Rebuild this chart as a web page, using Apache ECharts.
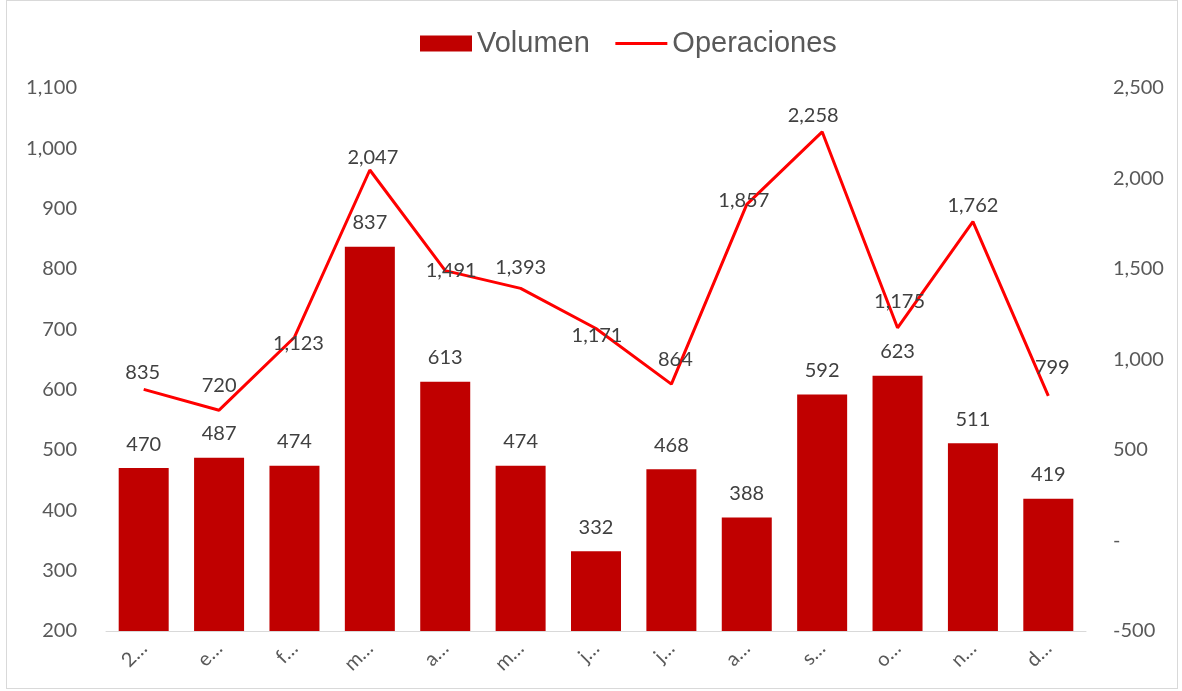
<!DOCTYPE html>
<html>
<head>
<meta charset="utf-8">
<script src="https://cdn.jsdelivr.net/npm/echarts@6/dist/echarts.min.js"></script>
<style>
html,body{margin:0;padding:0;background:#fff;}
#frame{position:absolute;left:6px;top:0;width:1172px;height:689px;border:1px solid #d9d9d9;box-sizing:border-box;}
#chart{position:absolute;left:0;top:0;width:1182px;height:691px;}
</style>
</head>
<body>
<div id="frame"></div>
<div id="chart"></div>
<script>
const categories = ["2…","e…","f…","m…","a…","m…","j…","j…","a…","s…","o…","n…","d…"];
const volumen = [470,487,474,837,613,474,332,468,388,592,623,511,419];
const operaciones = [835,720,1123,2047,1491,1393,1171,864,1857,2258,1175,1762,799];
const leftTicks = {min:200, max:1100, interval:100};
const rightTicks = {min:-500, max:2500, interval:500};
// label offsets (pixels) for line labels, relative to each point
const opLabelOffsets = [[-1,-17],[0,-25],[4,6],[3,-12],[6,0],[0,-21],[1,7],[4,-25],[-3,-4],[-9,-16],[2,-26],[0,-16],[4,-28]];

const fmt = v => v.toLocaleString('en-US');
const FONT = 'Lato';

const chart = echarts.init(document.getElementById('chart'));
chart.setOption({
  animation:false,
  legend:{
    top:24, left:415,
    itemWidth:52, itemHeight:16, itemGap:24,
    textStyle:{fontFamily:'Liberation Sans', fontSize:29, color:'#595959'},
    data:[
      {name:'Volumen', icon:'rect'},
      {name:'Operaciones', itemStyle:{opacity:0}, lineStyle:{width:3}}
    ]
  },
  grid:{left:106, right:96, top:88, bottom:60},
  xAxis:{
    type:'category', data:categories,
    axisLine:{onZero:false, lineStyle:{color:'#d9d9d9', width:1}},
    axisTick:{show:false},
    axisLabel:{rotate:45, margin:14, fontFamily:FONT, fontSize:20, color:'#595959'}
  },
  yAxis:[
    {type:'value', min:leftTicks.min, max:leftTicks.max, interval:leftTicks.interval,
     splitLine:{show:false}, axisLine:{show:false}, axisTick:{show:false},
     axisLabel:{margin:29, fontFamily:FONT, fontSize:20, color:'#595959', formatter:v=>fmt(v)}},
    {type:'value', min:rightTicks.min, max:rightTicks.max, interval:rightTicks.interval,
     splitLine:{show:false}, axisLine:{show:false}, axisTick:{show:false},
     axisLabel:{margin:27, align:'left', fontFamily:FONT, fontSize:20, color:'#595959', formatter:v=> v===0 ? '-' : fmt(v)}}
  ],
  series:[
    {name:'Volumen', type:'bar', yAxisIndex:0, data:volumen, barWidth:50,
     itemStyle:{color:'#C00000'},
     label:{show:true, position:'top', distance:14, fontFamily:FONT, fontSize:20, color:'#404040', formatter:p=>fmt(p.value)}},
    {name:'Operaciones', type:'line', yAxisIndex:1,
     data:operaciones.map((v,i)=>({value:v, label:{offset:opLabelOffsets[i]}})),
     symbol:'circle', symbolSize:0.1, showSymbol:true,
     lineStyle:{color:'#FF0000', width:3}, itemStyle:{color:'#FF0000'},
     label:{show:true, position:'inside', fontFamily:FONT, fontSize:20, color:'#404040', formatter:p=>fmt(p.value)}}
  ]
});
</script>
</body>
</html>
